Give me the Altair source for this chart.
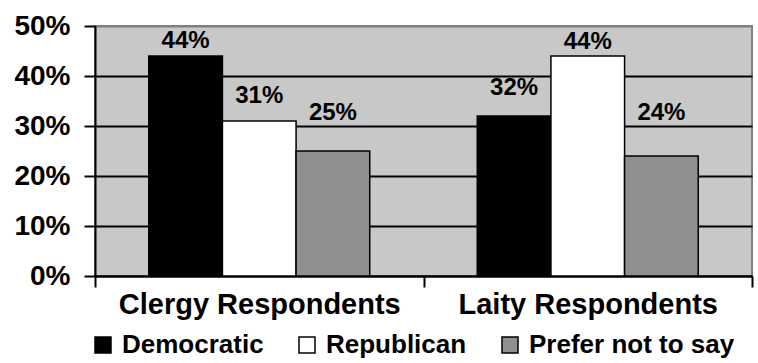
import altair as alt
import pandas as pd

# Respondent groups and the party each respondent identified with
groups = ["Clergy Respondents", "Laity Respondents"]
parties = ["Democratic", "Republican", "Prefer not to say"]
clergy_pct = [44, 31, 25]
laity_pct = [32, 44, 24]
# how far each value label sits above its bar, in percentage points
label_lift = [3.0, 5.0, 7.6, 5.6, 2.8, 8.6]
y_ticks = [0, 10, 20, 30, 40, 50]
party_fill = ["#000000", "#FFFFFF", "#8F8F8F"]

rows = []
for g, vals in zip(groups, [clergy_pct, laity_pct]):
    for p, v in zip(parties, vals):
        rows.append({"group": g, "party": p, "pct": v})
df = pd.DataFrame(rows)
df["lift"] = label_lift

FONT = "Liberation Sans"

x_enc = alt.X(
    "group:N",
    sort=groups,
    scale=alt.Scale(paddingInner=0, paddingOuter=0),
    axis=alt.Axis(
        title=None,
        labelAngle=0,
        labelLimit=400,
        tickBand="extent",
        tickSize=11,
        tickWidth=2,
        tickColor="black",
        domainColor="black",
        domainWidth=2,
        labelFont=FONT,
        labelFontSize=29,
        labelFontWeight="bold",
        labelColor="black",
        labelPadding=3,
        grid=False,
    ),
)
xoff_enc = alt.XOffset(
    "party:N", sort=parties, scale=alt.Scale(paddingInner=0, paddingOuter=0.73)
)

bars = alt.Chart(df).mark_bar(stroke="black", strokeWidth=1.5).encode(
    x=x_enc,
    xOffset=xoff_enc,
    y=alt.Y(
        "pct:Q",
        scale=alt.Scale(domain=[0, 50], nice=False),
        axis=alt.Axis(
            title=None,
            values=y_ticks,
            labelExpr="datum.value + '%'",
            tickSize=11,
            tickWidth=2,
            tickColor="black",
            domainColor="black",
            domainWidth=2,
            grid=True,
            gridColor={
                "condition": {"test": "datum.value === 50", "value": "#808080"},
                "value": "black",
            },
            gridWidth=2,
            labelFont=FONT,
            labelFontSize=28,
            labelFontWeight="bold",
            labelColor="black",
            labelPadding=14,
        ),
    ),
    color=alt.Color(
        "party:N",
        sort=parties,
        scale=alt.Scale(domain=parties, range=party_fill),
        legend=alt.Legend(
            title=None,
            orient="none",
            legendX=-5,
            legendY=306,
            direction="horizontal",
            symbolType="square",
            symbolSize=256,
            symbolStrokeColor="black",
            symbolStrokeWidth=1.5,
            labelFont=FONT,
            labelFontSize=26,
            labelFontWeight="bold",
            labelColor="black",
            labelOffset=6,
            columnPadding=30,
            labelLimit=400,
            padding=0,
        ),
    ),
)

labels = (
    alt.Chart(df)
    .transform_calculate(label_y="datum.pct + datum.lift", label="datum.pct + '%'")
    .mark_text(font=FONT, fontSize=24, fontWeight="bold", color="black", baseline="middle")
    .encode(
        x=x_enc,
        xOffset=xoff_enc,
        y=alt.Y("label_y:Q", scale=alt.Scale(domain=[0, 50], nice=False)),
        text="label:N",
    )
)

chart = (
    alt.layer(bars, labels)
    .properties(
        width=657,
        height=250,
        autosize=alt.AutoSizeParams(type="none"),
        padding={"left": 95, "top": 26, "right": 6, "bottom": 87},
        background="white",
    )
    .configure_view(fill="#C8C8C8", stroke="#808080", strokeWidth=2)
)

chart.save("out.html", embed_options={"renderer": "svg", "actions": False})
